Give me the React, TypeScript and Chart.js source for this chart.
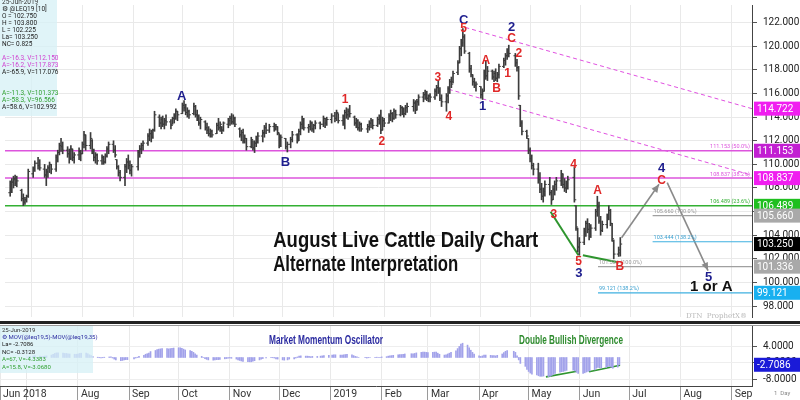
import React, { useEffect, useRef } from "react";
import { Chart, registerables } from "chart.js";
Chart.register(...registerables);

type Row = [number, number, number, number, number]; // day, open, high, low, close

// ---------------- price data (Aug 2019 Live Cattle, daily) ----------------
const jun18: Row[] = [
  [18, 107.6, 108.6, 107.3, 108.3], [19, 108.2, 108.8, 107.6, 108.5], [20, 108.5, 109.0, 108.0, 108.8],
  [21, 108.7, 109.1, 108.2, 108.4], [22, 108.4, 109.0, 108.1, 108.6], [25, 107.8, 107.9, 106.9, 107.1],
  [26, 107.1, 107.5, 106.5, 106.8], [27, 106.8, 107.2, 106.6, 107.0], [28, 107.0, 107.4, 106.8, 107.3],
  [29, 107.3, 109.6, 107.2, 109.4],
];
const jul18: Row[] = [
  [2, 109.2, 109.8, 108.9, 109.6], [3, 109.6, 110.3, 109.4, 110.1], [5, 110.1, 110.6, 109.6, 109.9],
  [6, 109.9, 110.4, 109.5, 109.7], [9, 109.6, 110.0, 108.9, 109.1], [10, 109.1, 109.6, 108.2, 109.4],
  [11, 109.3, 109.9, 108.9, 109.7], [12, 109.7, 110.2, 109.3, 110.0], [13, 110.0, 110.0, 109.2, 109.6],
  [16, 109.6, 110.8, 109.4, 110.6], [17, 110.6, 111.2, 110.2, 111.0], [18, 111.0, 111.8, 110.8, 111.6],
  [19, 111.6, 112.2, 111.1, 111.5], [20, 111.5, 111.9, 110.9, 111.2], [23, 111.2, 111.5, 110.6, 110.9],
  [24, 110.9, 111.3, 110.1, 110.5], [25, 110.5, 111.6, 110.4, 111.3], [26, 111.3, 111.3, 110.3, 110.6],
  [27, 110.6, 111.0, 110.1, 110.8], [30, 110.8, 111.4, 110.4, 111.1], [31, 111.1, 111.2, 110.3, 110.9],
];
const aug18: Row[] = [
  [1, 110.9, 111.9, 110.9, 111.7], [2, 111.7, 112.8, 111.4, 112.5], [3, 112.5, 112.5, 111.2, 111.6],
  [6, 111.6, 112.7, 111.3, 112.2], [7, 112.0, 112.1, 110.9, 111.1], [8, 111.1, 111.3, 110.3, 110.6],
  [9, 110.6, 111.0, 110.1, 110.8], [10, 110.8, 110.9, 110.0, 110.3], [13, 110.3, 110.8, 110.0, 110.6],
  [14, 110.6, 110.7, 110.0, 110.2], [15, 110.2, 110.9, 110.1, 110.7], [16, 110.7, 111.5, 110.6, 111.3],
  [17, 111.3, 111.9, 110.9, 111.7], [20, 111.7, 112.0, 111.0, 111.2], [21, 111.2, 111.6, 110.6, 110.8],
  [22, 110.4, 110.4, 109.6, 109.8], [23, 109.8, 109.9, 109.0, 109.3], [24, 109.3, 109.5, 108.6, 108.9],
  [27, 108.9, 110.0, 108.2, 109.8], [28, 109.8, 110.5, 109.3, 110.2], [29, 110.2, 110.8, 109.6, 109.9],
  [30, 109.9, 110.3, 109.2, 109.5], [31, 109.5, 110.0, 109.0, 109.8],
];
const sep18: Row[] = [
  [4, 109.8, 111.2, 109.5, 111.0], [5, 111.0, 111.6, 110.6, 111.3], [6, 111.3, 111.8, 110.9, 111.6],
  [7, 111.6, 112.0, 111.2, 111.8], [10, 111.8, 112.6, 111.6, 112.4], [11, 112.4, 113.0, 112.0, 112.6],
  [12, 112.6, 112.9, 111.9, 112.3], [13, 112.3, 113.0, 112.2, 112.9], [14, 112.9, 114.5, 112.8, 114.2],
  [17, 114.0, 114.2, 113.2, 113.5], [18, 113.5, 114.0, 113.0, 113.8], [19, 113.8, 114.1, 113.2, 113.4],
  [20, 113.4, 113.9, 113.0, 113.7], [21, 113.7, 114.2, 113.3, 113.6], [24, 113.6, 113.8, 113.0, 113.3],
  [25, 113.4, 114.0, 113.4, 113.9], [26, 113.9, 114.3, 113.5, 114.1], [27, 114.1, 114.7, 113.8, 114.5],
  [28, 114.5, 114.5, 113.7, 114.2],
];
const oct18: Row[] = [
  [1, 114.3, 115.2, 114.3, 115.0], [2, 115.0, 115.4, 114.5, 114.8], [3, 114.8, 115.1, 114.2, 114.4],
  [4, 114.4, 114.8, 114.0, 114.5], [5, 114.5, 114.6, 113.9, 114.2], [8, 114.3, 115.2, 114.2, 114.9],
  [9, 114.9, 115.0, 114.0, 114.2], [10, 114.2, 114.6, 113.7, 113.9], [11, 113.9, 114.2, 113.3, 113.5],
  [12, 113.5, 114.0, 113.0, 113.8], [15, 113.6, 113.7, 112.9, 113.1], [16, 113.1, 113.5, 112.6, 112.9],
  [17, 112.9, 113.2, 112.4, 112.6], [18, 112.6, 113.0, 112.3, 112.8], [19, 112.8, 112.9, 112.3, 112.5],
  [22, 112.6, 113.5, 112.6, 113.3], [23, 113.3, 113.9, 112.9, 113.1], [24, 113.1, 113.6, 112.8, 113.4],
  [25, 113.2, 113.2, 112.6, 112.9], [26, 112.9, 113.6, 112.8, 113.5], [29, 113.4, 113.9, 113.1, 113.7],
  [30, 113.7, 114.1, 113.3, 113.9], [31, 113.9, 114.3, 113.4, 113.6],
];
const nov18: Row[] = [
  [1, 113.6, 114.2, 113.4, 113.9], [2, 113.9, 114.0, 113.2, 113.4], [5, 113.0, 113.1, 112.3, 112.5],
  [6, 112.5, 112.9, 112.0, 112.7], [7, 112.7, 113.0, 111.8, 112.0], [8, 112.0, 112.5, 111.8, 112.2],
  [9, 112.2, 112.2, 111.2, 111.5], [12, 111.5, 112.3, 111.4, 112.1], [13, 112.0, 112.0, 111.2, 111.4],
  [14, 111.4, 112.0, 111.0, 111.8], [15, 111.8, 112.4, 111.5, 112.2], [16, 112.2, 112.7, 111.8, 112.4],
  [19, 112.4, 112.9, 111.9, 112.7], [20, 112.6, 113.3, 112.3, 113.1], [21, 113.1, 113.5, 112.6, 112.9],
  [23, 112.9, 113.4, 112.7, 113.2], [26, 113.2, 113.5, 112.8, 113.0], [27, 113.0, 113.4, 112.9, 113.2],
  [28, 113.2, 113.2, 112.5, 112.7], [29, 112.6, 112.6, 111.4, 111.6], [30, 111.6, 112.5, 111.5, 112.3],
];
const dec18: Row[] = [
  [3, 112.2, 112.2, 111.3, 111.5], [4, 111.5, 111.9, 111.05, 111.7], [6, 111.7, 112.3, 111.4, 112.1],
  [7, 112.1, 112.8, 111.9, 112.5], [10, 112.5, 112.6, 111.8, 112.0], [11, 112.0, 113.0, 112.0, 112.8],
  [12, 112.8, 113.6, 112.5, 113.4], [13, 113.4, 114.1, 113.0, 113.8], [14, 113.8, 113.9, 112.9, 113.1],
  [17, 113.1, 113.4, 112.7, 113.2], [18, 113.2, 113.7, 112.9, 113.5], [19, 113.5, 113.6, 112.8, 113.0],
  [20, 113.0, 113.4, 112.7, 113.3], [21, 113.3, 113.7, 113.0, 113.5], [24, 113.5, 113.6, 113.0, 113.4],
  [26, 113.4, 114.1, 113.2, 113.9], [27, 113.9, 113.9, 113.1, 113.5], [28, 113.5, 114.0, 113.3, 113.8],
  [31, 113.8, 114.3, 113.5, 114.1],
];
const jan19: Row[] = [
  [2, 114.1, 114.4, 113.6, 113.9], [3, 113.9, 114.6, 113.7, 114.4], [4, 114.3, 114.3, 113.5, 113.7],
  [7, 113.7, 114.2, 113.3, 113.5], [8, 113.5, 114.6, 113.0, 114.4], [9, 114.4, 114.8, 113.9, 114.2],
  [10, 114.2, 114.7, 113.8, 114.5], [11, 114.5, 115.0, 114.0, 114.3], [14, 114.0, 114.1, 113.3, 113.5],
  [15, 113.5, 113.9, 113.1, 113.7], [16, 113.7, 113.8, 112.9, 113.1], [17, 113.1, 113.6, 112.8, 113.4],
  [18, 113.4, 113.5, 112.8, 113.0], [22, 113.0, 113.4, 112.7, 113.2], [23, 113.2, 113.7, 112.9, 113.5],
  [24, 113.5, 113.9, 113.1, 113.7], [25, 113.7, 113.8, 113.0, 113.3], [28, 113.3, 114.0, 113.2, 113.8],
  [29, 113.8, 114.2, 113.4, 114.0], [30, 114.0, 114.6, 112.6, 112.9], [31, 112.9, 114.0, 112.9, 113.7],
];
const feb19: Row[] = [
  [1, 113.7, 113.9, 113.2, 113.5], [4, 113.5, 114.3, 113.5, 114.1], [5, 114.1, 114.6, 113.7, 114.3],
  [6, 114.3, 114.4, 113.6, 113.9], [7, 113.9, 114.7, 113.8, 114.5], [8, 114.5, 114.6, 113.9, 114.2],
  [11, 114.2, 115.0, 114.1, 114.8], [12, 114.8, 114.9, 114.2, 114.5], [13, 114.5, 114.8, 114.0, 114.3],
  [14, 114.3, 115.0, 114.2, 114.8], [15, 114.8, 115.2, 114.4, 114.9], [19, 114.9, 115.5, 114.5, 115.2],
  [20, 115.2, 115.4, 114.3, 114.6], [21, 114.6, 115.5, 114.6, 115.3], [22, 115.3, 115.9, 115.0, 115.7],
  [25, 115.7, 116.1, 115.3, 115.9], [26, 115.9, 116.3, 115.5, 116.0], [27, 116.0, 116.2, 115.4, 115.6],
  [28, 115.6, 115.9, 115.3, 115.8],
];
const mar19: Row[] = [
  [1, 115.8, 116.0, 115.3, 115.7], [4, 115.7, 116.4, 115.5, 116.2], [5, 116.2, 116.7, 115.8, 116.5],
  [6, 116.5, 117.1, 116.0, 116.2], [7, 116.2, 116.5, 115.4, 115.6], [8, 115.6, 115.9, 114.9, 115.3],
  [11, 115.3, 116.0, 114.5, 115.8], [12, 115.8, 116.6, 115.2, 116.4], [13, 116.4, 117.2, 116.0, 117.0],
  [14, 117.0, 117.4, 116.5, 116.8], [15, 117.0, 117.9, 116.9, 117.7], [18, 117.8, 118.8, 117.6, 118.6],
  [19, 118.6, 120.0, 118.6, 119.8], [20, 119.8, 120.6, 119.2, 120.3], [21, 120.3, 121.5, 120.0, 120.8],
  [22, 120.8, 121.0, 119.4, 119.6], [25, 119.4, 119.5, 117.8, 118.1], [26, 118.1, 118.4, 117.4, 117.6],
  [27, 117.6, 117.6, 116.7, 117.0], [28, 117.0, 117.3, 116.5, 116.7], [29, 116.7, 117.0, 116.2, 116.8],
];
const apr19: Row[] = [
  [1, 116.6, 116.6, 115.6, 115.9], [2, 115.9, 116.4, 115.5, 116.2], [3, 116.2, 118.0, 116.2, 117.8],
  [4, 117.8, 118.8, 117.2, 117.5], [5, 117.5, 118.3, 117.1, 117.9], [8, 117.9, 118.0, 117.2, 117.4],
  [9, 117.4, 117.9, 117.0, 117.7], [10, 117.7, 118.1, 117.1, 117.3], [11, 117.3, 117.8, 117.0, 117.6],
  [12, 117.6, 118.5, 117.3, 118.3], [15, 118.3, 119.0, 118.2, 118.8], [16, 118.8, 119.4, 118.4, 119.2],
  [17, 119.2, 119.8, 118.9, 119.5], [18, 119.5, 120.1, 119.1, 119.4], [22, 119.2, 119.4, 118.3, 118.6],
  [23, 118.6, 118.9, 117.9, 118.2], [24, 118.2, 118.3, 115.5, 115.8], [25, 115.0, 115.0, 113.2, 113.5],
  [26, 113.5, 113.7, 112.5, 112.8], [29, 112.8, 112.9, 112.2, 112.4], [30, 112.2, 112.2, 110.9, 111.2],
];
const may19: Row[] = [
  [1, 111.2, 111.4, 110.2, 110.5], [2, 110.5, 110.8, 109.6, 109.9], [3, 109.9, 110.1, 109.1, 109.6],
  [6, 109.6, 110.1, 108.4, 108.7], [7, 108.7, 109.3, 107.6, 107.9], [8, 107.9, 108.4, 107.0, 107.3],
  [9, 107.3, 108.0, 106.8, 107.7], [10, 107.7, 108.6, 107.3, 108.3], [13, 108.3, 108.9, 107.4, 107.6],
  [14, 107.6, 107.8, 106.6, 107.0], [15, 107.0, 108.2, 107.0, 107.9], [16, 107.9, 108.6, 107.4, 108.3],
  [17, 108.3, 108.9, 107.8, 108.6], [20, 108.6, 109.5, 108.2, 109.2], [21, 109.2, 109.2, 108.0, 108.3],
  [22, 108.3, 108.8, 107.7, 108.0], [23, 108.0, 108.6, 107.6, 108.4], [24, 108.4, 109.0, 107.9, 108.7],
  [28, 108.9, 109.8, 106.8, 107.0], [29, 106.5, 106.5, 104.4, 104.7], [30, 104.6, 104.6, 102.6, 103.0],
  [31, 103.0, 103.8, 102.3, 103.4],
];
const jun19: Row[] = [
  [3, 103.4, 104.6, 103.2, 104.3], [4, 104.3, 105.2, 103.9, 105.0], [5, 105.0, 105.4, 104.2, 104.5],
  [6, 104.5, 105.0, 103.6, 103.9], [7, 103.9, 104.9, 103.8, 104.6], [10, 104.6, 106.2, 104.4, 106.0],
  [11, 106.0, 107.3, 105.6, 106.4], [12, 106.4, 106.8, 105.0, 105.2], [13, 105.2, 105.6, 104.0, 104.4],
  [14, 104.4, 105.2, 104.3, 104.9], [17, 104.9, 105.8, 104.6, 105.5], [18, 105.5, 106.5, 105.3, 106.1],
  [19, 106.1, 106.2, 104.8, 105.0], [20, 105.0, 105.0, 103.5, 103.7], [21, 103.5, 103.6, 102.0, 102.4],
  [24, 102.4, 103.0, 102.2, 102.5], [25, 102.75, 103.8, 102.225, 103.25],
];

// ---------------- oscillator: MOV(5)-MOV(35), one value per trading day ----------------
const oscJun18: (number | null)[] = [null, null, null, null, null, null, null, null, null, null];
const oscJul18 = [0.2, 0.4, 0.6, 0.7, 0.5, 0.3, 0.4, 0.5, 0.6, 0.9, 1.2, 1.5, 1.7, 1.7, 1.6, 1.5, 1.5, 1.4, 1.3, 1.2, 1.2];
const oscAug18 = [1.3, 1.5, 1.6, 1.6, 1.4, 1.0, 0.7, 0.4, 0.1, -0.1, -0.2, -0.1, 0.1, 0.2, 0.2, -0.2, -0.6, -0.9, -1.2, -1.1, -0.9, -0.8, -0.8];
const oscSep18 = [-0.5, -0.2, 0.1, 0.4, 0.8, 1.2, 1.4, 1.6, 2.2, 2.6, 2.9, 3.1, 3.2, 3.3, 3.3, 3.2, 3.3, 3.4, 3.5];
const oscOct18 = [3.6, 3.6, 3.4, 3.1, 2.8, 2.6, 2.3, 1.9, 1.4, 0.9, 0.4, 0.0, -0.4, -0.7, -0.9, -1.0, -0.9, -0.8, -0.8, -0.7, -0.5, -0.4, -0.3];
const oscNov18 = [-0.2, -0.3, -0.6, -0.9, -1.1, -1.3, -1.5, -1.6, -1.6, -1.6, -1.4, -1.2, -0.9, -0.6, -0.4, -0.2, -0.1, -0.1, -0.2, -0.5, -0.6];
const oscDec18 = [-0.9, -1.0, -0.9, -0.6, -0.5, -0.2, 0.2, 0.5, 0.6, 0.5, 0.5, 0.4, 0.3, 0.4, 0.4, 0.5, 0.6, 0.7, 0.8];
const oscJan19 = [0.9, 1.0, 1.0, 0.9, 0.9, 1.0, 1.1, 1.2, 1.0, 0.7, 0.4, 0.2, 0.0, -0.1, -0.2, -0.1, 0.0, 0.1, 0.1, 0.0, 0.1];
const oscFeb19 = [0.2, 0.3, 0.5, 0.6, 0.7, 0.8, 1.0, 1.1, 1.1, 1.2, 1.3, 1.4, 1.4, 1.5, 1.7, 1.9, 2.0, 2.0, 1.9];
const oscMar19 = [1.8, 1.9, 2.0, 2.0, 1.6, 1.2, 0.9, 1.0, 1.3, 1.6, 1.9, 2.5, 3.3, 4.1, 5.0, 5.3, 4.6, 3.6, 2.7, 1.9, 1.3];
const oscApr19 = [0.6, 0.4, 0.6, 0.9, 0.9, 0.8, 0.7, 0.7, 0.6, 0.8, 1.3, 1.8, 2.3, 2.6, 2.3, 1.9, 0.6, -0.9, -2.2, -3.3, -4.4];
const oscMay19 = [-5.2, -5.8, -6.2, -6.5, -6.8, -7.0, -7.0, -6.9, -7.1, -7.0, -6.7, -6.3, -5.9, -5.5, -5.3, -5.2, -5.0, -4.8, -4.7, -5.0, -5.5, -5.9];
const oscJun19 = [-5.9, -5.7, -5.4, -5.2, -5.0, -4.6, -4.0, -3.7, -3.8, -3.9, -3.7, -3.4, -3.3, -3.6, -4.0, -3.6, -2.7086];

const months: [number, number, Row[], (number | null)[]][] = [
  [2018, 6, jun18, oscJun18], [2018, 7, jul18, oscJul18], [2018, 8, aug18, oscAug18],
  [2018, 9, sep18, oscSep18], [2018, 10, oct18, oscOct18], [2018, 11, nov18, oscNov18],
  [2018, 12, dec18, oscDec18], [2019, 1, jan19, oscJan19], [2019, 2, feb19, oscFeb19],
  [2019, 3, mar19, oscMar19], [2019, 4, apr19, oscApr19], [2019, 5, may19, oscMay19],
  [2019, 6, jun19, oscJun19],
];

// ---------------- axis ticks ----------------
const monthStarts: [number, number][] = [
  [2018, 7], [2018, 8], [2018, 9], [2018, 10], [2018, 11], [2018, 12], [2019, 1], [2019, 2],
  [2019, 3], [2019, 4], [2019, 5], [2019, 6], [2019, 7], [2019, 8], [2019, 9],
];
const monthLabels = ["Jun 2018", "", "Aug", "Sep", "Oct", "Nov", "Dec", "2019", "Feb", "Mar", "Apr", "May", "Jun", "Jul", "Aug", "Sep"];
const priceTicks = [98, 100, 102, 104, 106, 108, 110, 112, 114, 116, 118, 120, 122];
const oscTicks = [4, -2, -8];

// ---------------- annotations (data units: day index since 1-Jul-2018, price) ----------------
const fibLevels = [111.153, 108.837, 106.489];
const fibLabels = ["111.153 (50.0%)", "108.837 (38.2%)", "106.489 (23.6%)"];
const fibColors = ["#dd55dd", "#dd55dd", "#33b033"];
const projLevels = [105.66, 103.444, 101.336, 99.121];
const projStart = [378.7, 378.7, 345.4, 345.4];
const projLabels = ["105.660 (100.0%)", "103.444 (138.2%)", "101.336 (100.0%)", "99.121 (138.2%)"];
const projColors = ["#a0a0a0", "#3fb0e0", "#a0a0a0", "#3fb0e0"];
const channelUpper = [[264.5, 121.6], [439.3, 114.72]];
const channelLower = [[254.4, 116.36], [439.3, 109.08]];
const arrowPaths = [
  [[359.8, 103.78], [382.6, 108.31]],
  [[387.6, 108.45], [412.5, 101.0]],
];
const priceDivergence = [
  [[316.5, 105.99], [333.5, 102.3]],
  [[336.2, 102.3], [357.4, 101.7]],
];
const oscDivergence = [
  [[314.5, -7.2], [333.3, -5.1]],
  [[340.6, -5.3], [359.4, -2.9]],
];
const blueWaves = [
  ["A", 91.5, 115.79], ["B", 154.8, 110.14], ["C", 263.5, 122.21], ["2", 292.7, 121.59],
  ["1", 275, 114.88], ["3", 333.7, 100.78], ["4", 384.2, 109.68], ["5", 412.8, 100.43],
];
const redWaves = [
  ["5", 263.5, 121.51], ["A", 277, 118.8], ["B", 283.6, 116.38], ["C", 292.7, 120.63],
  ["1", 290.3, 117.67], ["2", 297.1, 119.4], ["3", 247.7, 117.34], ["4", 254.4, 114.06],
  ["1", 191.2, 115.48], ["2", 213.6, 111.95], ["4", 330.5, 110.01], ["3", 318.4, 105.71],
  ["5", 333.5, 101.75], ["A", 345.2, 107.76], ["B", 358.7, 101.33], ["C", 384.2, 108.58],
];
const blackWaves = [["1 or A", 414.5, 99.64]];
const titleLines = ["August Live Cattle Daily Chart", "Alternate Interpretation"];
const priceBoxes: [number, string][] = [
  [114.722, "#f01ef0"], [111.153, "#c21fd2"], [108.837, "#f01ef0"], [106.489, "#1fbf1f"],
  [105.66, "#a9a9a9"], [103.25, "#000000"], [101.336, "#a9a9a9"], [99.121, "#18b0f0"],
];
const oscLast = -2.7086;
const infoTop: [string, string][] = [
  ["25-Jun-2019", "#333"], ["\u2699 @LEQ19 [10]", "#222"], ["O = 102.750", "#222"], ["H = 103.800", "#222"],
  ["L = 102.225", "#222"], ["La= 103.250", "#222"], ["NC= 0.825", "#222"], ["", "#222"],
  ["A=-16.3, V=112.150", "#d040d0"], ["A=-16.2, V=117.873", "#d040d0"], ["A=-65.9, V=117.076", "#222"],
  ["", "#222"], ["", "#222"], ["A=-11.3, V=101.373", "#2f9f2f"], ["A=-58.3, V=96.566", "#2f9f2f"],
  ["A=58.6, V=102.992", "#222"],
];
const infoOsc: [string, string][] = [
  ["25-Jun-2019", "#333"], ["\u2699 MOV(@leq19,5)-MOV(@leq19,35)", "#2a2aa0"], ["La= -2.7086", "#222"],
  ["NC= -0.3128", "#222"], ["A=67, V=-4.3383", "#2f9f2f"], ["A=15.8, V=-3.0680", "#2f9f2f"],
];

// ---------------- derived ----------------
const BASE = Date.UTC(2018, 6, 1);
const dayIndex = (y: number, m: number, d: number) => Math.round((Date.UTC(y, m - 1, d) - BASE) / 86400000);
const X_MIN = -16.17;
const X_MAX = 439.3;
const bars: { x: number; o: number; h: number; l: number; c: number; osc: number | null }[] = [];
months.forEach(([y, m, rows, osc]) => {
  rows.forEach((r, i) => bars.push({ x: dayIndex(y, m, r[0]), o: r[1], h: r[2], l: r[3], c: r[4], osc: osc[i] ?? null }));
});
const monthDays = monthStarts.map(([y, m]) => dayIndex(y, m, 1));
const FONT = "Roboto";
const BAR_COLOR = "#3c3c3c";

const noPad = (s: any) => {
  s.paddingTop = 0;
  s.paddingBottom = 0;
  s.paddingLeft = 0;
  s.paddingRight = 0;
};

const seg = (p: number[][], color: string, width: number, dash: number[] = []) => ({
  type: "line",
  data: p.map(([x, y]) => ({ x, y })),
  borderColor: color,
  borderWidth: width,
  borderDash: dash,
  pointRadius: 0,
  fill: false,
  tension: 0,
});

function fitText(ctx: CanvasRenderingContext2D, text: string, x: number, y: number, font: string, w: number) {
  ctx.font = font;
  const m = ctx.measureText(text).width;
  ctx.save();
  ctx.translate(x, y);
  ctx.scale(w / m, 1);
  ctx.fillText(text, 0, 0);
  ctx.restore();
}

const topOverlay = {
  id: "topOverlay",
  afterDraw(chart: any) {
    const { ctx, chartArea: a } = chart;
    const xs = chart.scales.x;
    const ys = chart.scales.y;
    const px = (v: number) => xs.getPixelForValue(v);
    const py = (v: number) => ys.getPixelForValue(v);
    ctx.save();
    // info box
    ctx.fillStyle = "rgba(214,240,246,0.75)";
    ctx.fillRect(0, 0, 57, 116);
    ctx.font = `6.5px ${FONT}`;
    ctx.textAlign = "left";
    ctx.textBaseline = "middle";
    infoTop.forEach(([t, c], i) => {
      ctx.fillStyle = c;
      ctx.fillText(t, 2, 2 + i * 7.05);
    });
    // level labels
    ctx.font = `5.5px ${FONT}`;
    ctx.textBaseline = "bottom";
    ctx.textAlign = "right";
    fibLevels.forEach((v, i) => {
      ctx.fillStyle = fibColors[i];
      ctx.fillText(fibLabels[i], a.right - 2, py(v) - 1);
    });
    ctx.textAlign = "left";
    projLevels.forEach((v, i) => {
      ctx.fillStyle = projColors[i] === "#a0a0a0" ? "#999" : "#3aa0d0";
      ctx.fillText(projLabels[i], px(projStart[i]) + 1, py(v) - 1);
    });
    // arrow heads
    ctx.fillStyle = "#8a8a8a";
    arrowPaths.forEach(([p0, p1]) => {
      const x0 = px(p0[0]), y0 = py(p0[1]), x1 = px(p1[0]), y1 = py(p1[1]);
      const ang = Math.atan2(y1 - y0, x1 - x0);
      const L = 8, H = 3.5;
      ctx.beginPath();
      ctx.moveTo(x1, y1);
      ctx.lineTo(x1 - L * Math.cos(ang) + H * Math.sin(ang), y1 - L * Math.sin(ang) - H * Math.cos(ang));
      ctx.lineTo(x1 - L * Math.cos(ang) - H * Math.sin(ang), y1 - L * Math.sin(ang) + H * Math.cos(ang));
      ctx.closePath();
      ctx.fill();
    });
    // wave labels
    ctx.textAlign = "center";
    ctx.textBaseline = "middle";
    ctx.font = `bold 13px "Liberation Sans"`;
    ctx.fillStyle = "#1e1e8e";
    blueWaves.forEach(([t, x, y]) => ctx.fillText(t as string, px(x as number), py(y as number)));
    ctx.font = `bold 12px "Liberation Sans"`;
    ctx.fillStyle = "#e02828";
    redWaves.forEach(([t, x, y]) => ctx.fillText(t as string, px(x as number), py(y as number)));
    ctx.font = `bold 15px "Liberation Sans"`;
    ctx.fillStyle = "#111";
    blackWaves.forEach(([t, x, y]) => ctx.fillText(t as string, px(x as number), py(y as number)));
    // title
    ctx.textAlign = "left";
    ctx.fillStyle = "#111";
    fitText(ctx, titleLines[0], px(147.4), py(103.55), `bold 22px "Liberation Sans Narrow", "Liberation Sans"`, 265);
    fitText(ctx, titleLines[1], px(147.4), py(101.5), `bold 22px "Liberation Sans Narrow", "Liberation Sans"`, 185);
    // watermark
    ctx.font = `7px "DejaVu Serif"`;
    ctx.fillStyle = "#b8b8b8";
    ctx.textAlign = "right";
    ctx.fillText("DTN  ProphetX\u00ae", a.right - 5, a.bottom - 1);
    // price boxes on the axis
    ctx.font = `10px ${FONT}`;
    ctx.textAlign = "left";
    ctx.textBaseline = "middle";
    priceBoxes.forEach(([v, c]) => {
      const y = py(v);
      ctx.fillStyle = c;
      ctx.fillRect(a.right + 2, y - 7, 800 - a.right - 2, 14);
      ctx.fillStyle = "#fff";
      ctx.fillText(v.toFixed(3), a.right + 5, y + 0.5);
    });
    ctx.restore();
  },
};

const botOverlay = {
  id: "botOverlay",
  afterDraw(chart: any) {
    const { ctx, chartArea: a } = chart;
    const ys = chart.scales.y;
    ctx.save();
    ctx.fillStyle = "rgba(214,240,246,0.75)";
    ctx.fillRect(0, 0, 93, 47);
    ctx.font = `6px ${FONT}`;
    ctx.textAlign = "left";
    ctx.textBaseline = "middle";
    infoOsc.forEach(([t, c], i) => {
      ctx.fillStyle = c;
      ctx.fillText(t, 2, 4 + i * 7.4);
    });
    ctx.fillStyle = "#2a2aa0";
    fitText(ctx, "Market Momentum Oscillator", 269, 15, `bold 12px "Liberation Sans Narrow", "Liberation Sans"`, 114);
    ctx.fillStyle = "#2e8b2e";
    fitText(ctx, "Double Bullish Divergence", 519, 15, `bold 12px "Liberation Sans Narrow", "Liberation Sans"`, 104);
    const y = ys.getPixelForValue(oscLast);
    ctx.fillStyle = "#1a1ad8";
    ctx.fillRect(a.right + 2, y - 7, 800 - a.right - 2, 14);
    ctx.fillStyle = "#fff";
    ctx.font = `10px ${FONT}`;
    ctx.fillText(oscLast.toFixed(4), a.right + 5, y + 0.5);
    ctx.fillStyle = "#888";
    ctx.font = `6px ${FONT}`;
    ctx.fillText("1  Day", a.right + 22, a.bottom + 7);
    ctx.restore();
  },
};

export default function App() {
  const topRef = useRef<HTMLCanvasElement>(null);
  const botRef = useRef<HTMLCanvasElement>(null);
  useEffect(() => {
    const hl = bars.map((b) => ({ x: b.x, y: [b.l, b.h] }));
    const opens = bars.map((b) => ({ x: b.x - 0.6, y: b.o }));
    const closes = bars.map((b) => ({ x: b.x + 0.6, y: b.c }));
    const osc = bars.filter((b) => b.osc !== null).map((b) => ({ x: b.x, y: [0, b.osc as number] }));
    const common = {
      animation: false,
      responsive: false,
      events: [],
      layout: { padding: 0 },
      plugins: { legend: { display: false }, tooltip: { enabled: false } },
    };
    const c1 = new Chart(topRef.current as HTMLCanvasElement, {
      type: "bar",
      data: {
        datasets: [
          { type: "bar", data: hl, backgroundColor: BAR_COLOR, barThickness: 1, grouped: false },
          { type: "scatter", data: opens, pointStyle: "line", pointRadius: 0.9, borderColor: BAR_COLOR, borderWidth: 1 },
          { type: "scatter", data: closes, pointStyle: "line", pointRadius: 0.9, borderColor: BAR_COLOR, borderWidth: 1 },
          ...fibLevels.map((v, i) => seg([[X_MIN, v], [X_MAX, v]], fibColors[i], 1.5)),
          ...projLevels.map((v, i) => seg([[projStart[i], v], [X_MAX, v]], projColors[i], 1.2)),
          seg(channelUpper, "#e050e0", 1, [4, 3]),
          seg(channelLower, "#e050e0", 1, [4, 3]),
          ...arrowPaths.map((p) => seg(p, "#8a8a8a", 1.6)),
          ...priceDivergence.map((p) => seg(p, "#2e952e", 2)),
        ] as any,
      },
      options: {
        ...common,
        scales: {
          x: {
            type: "linear", min: X_MIN, max: X_MAX, offset: false,
            grid: { color: "#e9e9e9", drawTicks: false, offset: false },
            border: { display: false },
            ticks: { display: false },
            afterBuildTicks: (s: any) => { s.ticks = monthDays.map((v) => ({ value: v })); },
            afterFit: (s: any) => { s.height = 0; noPad(s); },
          },
          y: {
            position: "right", min: 97.07, max: 123.502,
            grid: { color: "#e9e9e9", tickLength: 5, tickColor: "#555" },
            border: { display: true, color: "#444" },
            ticks: { color: "#222", padding: 6, font: { family: FONT, size: 10 }, callback: (v: any) => Number(v).toFixed(3) },
            afterBuildTicks: (s: any) => { s.ticks = priceTicks.map((v) => ({ value: v })); },
            afterFit: (s: any) => { s.width = 48; noPad(s); },
          },
        },
      } as any,
      plugins: [topOverlay],
    });
    const c2 = new Chart(botRef.current as HTMLCanvasElement, {
      type: "bar",
      data: {
        datasets: [
          { type: "bar", data: osc, backgroundColor: "#a2a2ea", barThickness: 1, grouped: false },
          ...oscDivergence.map((p) => seg(p, "#2e952e", 1.6)),
        ] as any,
      },
      options: {
        ...common,
        scales: {
          x: {
            type: "linear", min: X_MIN, max: X_MAX, offset: false,
            grid: { color: "#e9e9e9", tickLength: 14, tickColor: "#9a9a9a", offset: false },
            border: { display: true, color: "#444" },
            ticks: {
              autoSkip: false, maxRotation: 0, minRotation: 0, align: "start", labelOffset: 3, padding: -12,
              color: "#333", font: { family: FONT, size: 10.5 },
              callback: (_v: any, i: number) => monthLabels[i],
            },
            afterBuildTicks: (s: any) => { s.ticks = [X_MIN, ...monthDays].map((v) => ({ value: v })); },
            afterFit: (s: any) => { s.height = 14; noPad(s); },
          },
          y: {
            position: "right", min: -10.6, max: 11.7,
            grid: { color: "#eeeeee", tickLength: 5, tickColor: "#555" },
            border: { display: true, color: "#444" },
            ticks: { color: "#222", padding: 6, font: { family: FONT, size: 10 }, callback: (v: any) => Number(v).toFixed(4) },
            afterBuildTicks: (s: any) => { s.ticks = oscTicks.map((v) => ({ value: v })); },
            afterFit: (s: any) => { s.width = 48; noPad(s); },
          },
        },
      } as any,
      plugins: [botOverlay],
    });
    return () => { c1.destroy(); c2.destroy(); };
  }, []);
  return (
    <div style={{ position: "fixed", left: 0, top: 0, width: 800, height: 400, background: "#fff", overflow: "hidden" }}>
      <canvas ref={topRef} width={800} height={322} style={{ position: "absolute", left: 0, top: 0 }} />
      <div style={{ position: "absolute", left: 0, top: 321, width: 800, height: 3, background: "#222" }} />
      <div style={{ position: "absolute", left: 0, top: 325, width: 800, height: 1, background: "#999" }} />
      <canvas ref={botRef} width={800} height={74} style={{ position: "absolute", left: 0, top: 326 }} />
    </div>
  );
}
